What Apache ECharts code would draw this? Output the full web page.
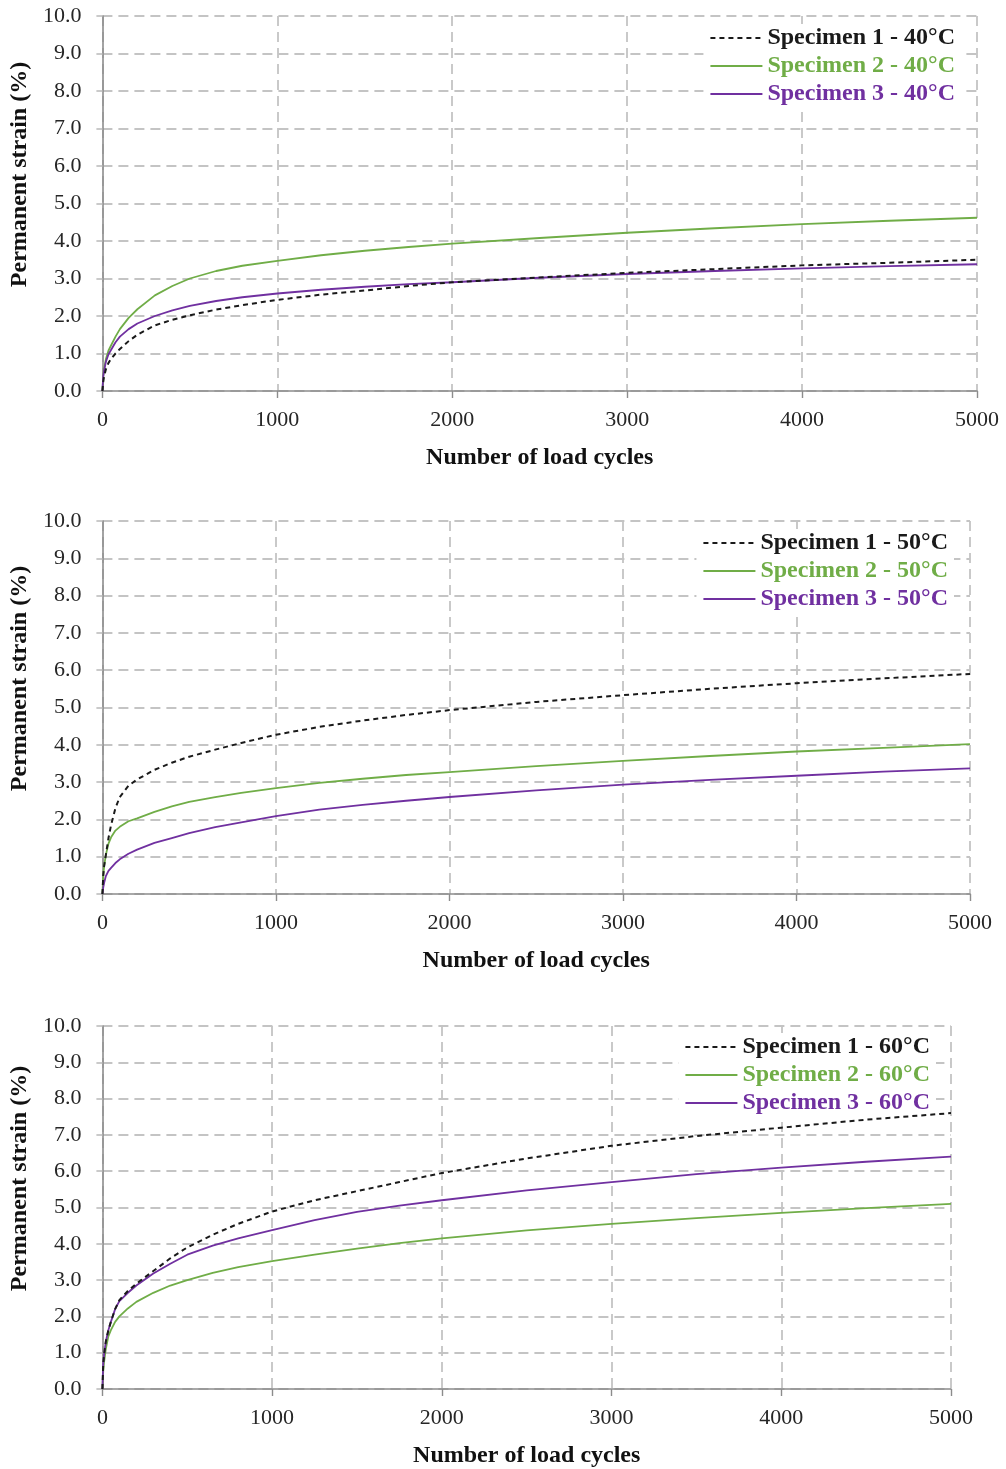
<!DOCTYPE html>
<html>
<head>
<meta charset="utf-8">
<script src="https://cdn.jsdelivr.net/npm/echarts@6/dist/echarts.min.js"></script>
<style>
  html, body { margin: 0; padding: 0; background: #fff; }
  #chart { width: 1006px; height: 1469px; }
</style>
</head>
<body>
<div id="chart"></div>
<script>
// Load cycles at which strain readings were taken
const cycles = [0, 5, 10, 20, 35, 50, 75, 100, 150, 200, 300, 400, 500, 650, 800, 1000, 1250, 1500, 1750, 2000, 2500, 3000, 3500, 4000, 4500, 5000];

// Permanent strain (%) at 40 °C
const s1_40 = [0, 0.25, 0.4, 0.58, 0.75, 0.86, 1.0, 1.12, 1.33, 1.5, 1.75, 1.9, 2.02, 2.17, 2.29, 2.43, 2.57, 2.68, 2.8, 2.9, 3.03, 3.15, 3.25, 3.35, 3.42, 3.5];
const s2_40 = [0, 0.4, 0.6, 0.85, 1.08, 1.22, 1.45, 1.65, 1.95, 2.18, 2.55, 2.8, 3.0, 3.2, 3.34, 3.47, 3.62, 3.74, 3.84, 3.93, 4.08, 4.22, 4.34, 4.45, 4.54, 4.62];
const s3_40 = [0, 0.4, 0.55, 0.78, 0.98, 1.1, 1.3, 1.45, 1.65, 1.8, 2.0, 2.15, 2.27, 2.4, 2.5, 2.6, 2.7, 2.78, 2.85, 2.9, 3.02, 3.12, 3.2, 3.27, 3.33, 3.38];

// Permanent strain (%) at 50 °C
const s1_50 = [0, 0.5, 0.75, 1.05, 1.5, 1.85, 2.3, 2.6, 2.9, 3.07, 3.33, 3.52, 3.68, 3.87, 4.05, 4.27, 4.48, 4.65, 4.8, 4.93, 5.15, 5.33, 5.5, 5.65, 5.78, 5.9];
const s2_50 = [0, 0.5, 0.75, 1.05, 1.35, 1.52, 1.7, 1.8, 1.95, 2.03, 2.2, 2.35, 2.47, 2.6, 2.71, 2.84, 2.98, 3.09, 3.19, 3.27, 3.43, 3.57, 3.7, 3.82, 3.92, 4.02];
const s3_50 = [0, 0.18, 0.3, 0.48, 0.62, 0.7, 0.83, 0.93, 1.08, 1.19, 1.37, 1.5, 1.63, 1.79, 1.92, 2.09, 2.26, 2.39, 2.5, 2.6, 2.78, 2.93, 3.06, 3.17, 3.28, 3.37];

// Permanent strain (%) at 60 °C
const s1_60 = [0, 0.7, 0.95, 1.3, 1.62, 1.85, 2.2, 2.45, 2.7, 2.9, 3.25, 3.6, 3.9, 4.25, 4.55, 4.89, 5.2, 5.45, 5.7, 5.95, 6.35, 6.7, 6.97, 7.2, 7.42, 7.6];
const s2_60 = [0, 0.5, 0.75, 1.1, 1.45, 1.62, 1.85, 2.0, 2.22, 2.4, 2.65, 2.85, 3.0, 3.2, 3.36, 3.52, 3.7, 3.87, 4.02, 4.15, 4.37, 4.55, 4.71, 4.85, 4.98, 5.1];
const s3_60 = [0, 0.7, 0.95, 1.3, 1.62, 1.85, 2.2, 2.42, 2.65, 2.85, 3.18, 3.45, 3.7, 3.95, 4.15, 4.38, 4.65, 4.88, 5.05, 5.2, 5.47, 5.7, 5.92, 6.1, 6.26, 6.4];

const xTicks = { min: 0, max: 5000, interval: 1000 };
const yTicks = { min: 0, max: 10, interval: 1 };

const temps = ['40', '50', '60'];
const panelSeries = [[s1_40, s2_40, s3_40], [s1_50, s2_50, s3_50], [s1_60, s2_60, s3_60]];

const colors = ['#1a1a1a', '#70ad47', '#7030a0'];
const serif = '"Liberation Serif", "Times New Roman", serif';

// Plot rectangles for the three stacked panels
const grids = [
  { left: 100, top: 16, width: 877, height: 375 },
  { left: 100, top: 521, width: 870, height: 373 },
  { left: 97, top: 1026, width: 854, height: 366 }
];
const legendPos = [
  { right: 45, top: 24 },
  { right: 52, top: 529 },
  { right: 70, top: 1033 }
];

const gridDash = { color: '#c4c4c4', width: 1.8, type: [10, 6] };

const option = {
  animation: false,
  backgroundColor: '#fff',
  grid: grids.map(g => Object.assign({ containLabel: false }, g)),
  xAxis: grids.map((g, i) => ({
    type: 'value', gridIndex: i,
    min: xTicks.min, max: xTicks.max, interval: xTicks.interval,
    name: 'Number of load cycles',
    nameLocation: 'middle', nameGap: 55,
    nameTextStyle: { fontFamily: serif, fontWeight: 'bold', fontSize: 24, color: '#111' },
    axisLine: { show: true, onZero: false, lineStyle: { color: '#8c8c8c', width: 1.6 } },
    axisTick: { show: true, length: 7, lineStyle: { color: '#8c8c8c', width: 1.4 } },
    axisLabel: { fontFamily: serif, fontSize: 22, color: '#262626', margin: 18, formatter: v => String(v) },
    splitLine: { show: true, lineStyle: gridDash }
  })),
  yAxis: grids.map((g, i) => ({
    type: 'value', gridIndex: i,
    min: yTicks.min, max: yTicks.max, interval: yTicks.interval,
    name: 'Permanent strain (%)',
    nameLocation: 'middle', nameGap: 68, nameRotate: 90,
    nameTextStyle: { fontFamily: serif, fontWeight: 'bold', fontSize: 24, color: '#111', padding: [0, 0, 0, 58] },
    axisLine: { show: true, lineStyle: { color: '#8c8c8c', width: 1.6 } },
    axisTick: { show: true, length: 6, lineStyle: { color: '#c4c4c4', width: 1.8 } },
    axisLabel: { fontFamily: serif, fontSize: 22, color: '#262626', margin: 21, formatter: v => v.toFixed(1) },
    splitLine: { show: true, lineStyle: gridDash }
  })),
  // Legends sit above the gridlines but beneath the curves
  legend: temps.map((t, i) => ({
    ...legendPos[i],
    z: 1,
    orient: 'vertical',
    itemWidth: 52, itemHeight: 10, itemGap: 4,
    backgroundColor: '#fff',
    padding: [2, 6, 2, 6],
    itemStyle: { opacity: 0, borderWidth: 0 },
    textStyle: { fontFamily: serif, fontWeight: 'bold', fontSize: 24 },
    data: [1, 2, 3].map((k, j) => ({
      name: 'Specimen ' + k + ' - ' + t + '°C',
      textStyle: { color: colors[j] }
    }))
  })),
  series: []
};

panelSeries.forEach((set, i) => {
  set.forEach((vals, j) => {
    option.series.push({
      type: 'line',
      name: 'Specimen ' + (j + 1) + ' - ' + temps[i] + '°C',
      xAxisIndex: i, yAxisIndex: i,
      data: cycles.map((c, k) => [c, vals[k]]),
      smooth: false,
      showSymbol: false, symbol: 'none',
      color: colors[j],
      lineStyle: { color: colors[j], width: j === 0 ? 2 : 1.8, type: j === 0 ? [5, 4] : 'solid' },
      z: j === 0 ? 3 : 2
    });
  });
});

const chart = echarts.init(document.getElementById('chart'), null, { renderer: 'canvas' });
chart.setOption(option);
</script>
</body>
</html>
